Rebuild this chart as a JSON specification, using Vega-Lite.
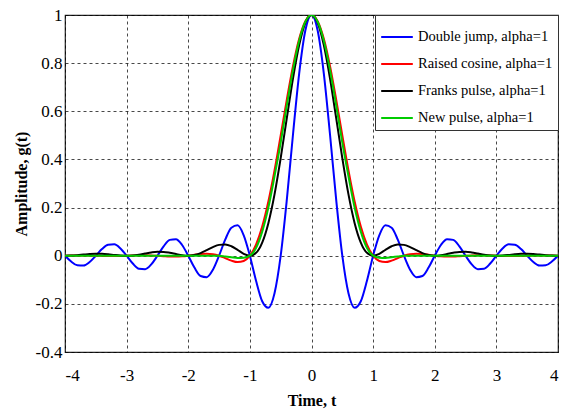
{
  "$schema": "https://vega.github.io/schema/vega-lite/v6.json",
  "autosize": {"type": "none"},
  "padding": {"left": 65, "top": 15, "right": 8, "bottom": 62},
  "width": 493,
  "height": 337,
  "background": "white",
  "config": {
    "font": "Liberation Serif",
    "view": {"stroke": "#222", "strokeWidth": 1.2},
    "axis": {"labelColor": "black", "titleColor": "black", "labelFont": "Liberation Serif", "titleFont": "Liberation Serif"},
    "legend": {"labelFont": "Liberation Serif"}
  },
  "data": {"values": [
    {"t": -4.0, "dj": 0, "rc": 0, "fp": 0, "np": 0},
    {"t": -3.9, "dj": -0.0240, "rc": 0.0004, "fp": 0.0006, "np": 0},
    {"t": -3.8, "dj": -0.0398, "rc": 0.0007, "fp": 0.0024, "np": 0},
    {"t": -3.7, "dj": -0.0409, "rc": 0.0007, "fp": 0.0048, "np": 0},
    {"t": -3.6, "dj": -0.0260, "rc": 0.0005, "fp": 0.0071, "np": 0},
    {"t": -3.5, "dj": 0, "rc": 0, "fp": 0.0083, "np": 0},
    {"t": -3.4, "dj": 0.0275, "rc": -0.0006, "fp": 0.0079, "np": 0},
    {"t": -3.3, "dj": 0.0459, "rc": -0.0011, "fp": 0.0061, "np": 0},
    {"t": -3.2, "dj": 0.0473, "rc": -0.0012, "fp": 0.0034, "np": 0},
    {"t": -3.1, "dj": 0.0302, "rc": -0.0008, "fp": 0.0010, "np": 0},
    {"t": -3.0, "dj": 0, "rc": 0, "fp": 0, "np": 0},
    {"t": -2.9, "dj": -0.0323, "rc": 0.0010, "fp": 0.0011, "np": 0},
    {"t": -2.8, "dj": -0.0541, "rc": 0.0018, "fp": 0.0045, "np": 0},
    {"t": -2.7, "dj": -0.0561, "rc": 0.0020, "fp": 0.0091, "np": 0},
    {"t": -2.6, "dj": -0.0360, "rc": 0.0014, "fp": 0.0136, "np": 0},
    {"t": -2.5, "dj": 0, "rc": 0, "fp": 0.0162, "np": 0},
    {"t": -2.4, "dj": 0.0390, "rc": -0.0018, "fp": 0.0159, "np": 0},
    {"t": -2.3, "dj": 0.0658, "rc": -0.0033, "fp": 0.0125, "np": 0},
    {"t": -2.2, "dj": 0.0688, "rc": -0.0037, "fp": 0.0072, "np": 0},
    {"t": -2.1, "dj": 0.0445, "rc": -0.0027, "fp": 0.0022, "np": 0},
    {"t": -2.0, "dj": 0, "rc": 0, "fp": 0, "np": 0},
    {"t": -1.9, "dj": -0.0492, "rc": 0.0037, "fp": 0.0027, "np": 0},
    {"t": -1.8, "dj": -0.0841, "rc": 0.0070, "fp": 0.0108, "np": 0},
    {"t": -1.7, "dj": -0.0890, "rc": 0.0084, "fp": 0.0229, "np": 0},
    {"t": -1.6, "dj": -0.0585, "rc": 0.0063, "fp": 0.0358, "np": 0},
    {"t": -1.5, "dj": 0, "rc": 0, "fp": 0.0450, "np": 0},
    {"t": -1.4, "dj": 0.0668, "rc": -0.0098, "fp": 0.0468, "np": -0.003},
    {"t": -1.3, "dj": 0.1164, "rc": -0.0202, "fp": 0.0392, "np": -0.006},
    {"t": -1.2, "dj": 0.1261, "rc": -0.0265, "fp": 0.0243, "np": -0.009},
    {"t": -1.1, "dj": 0.0850, "rc": -0.0221, "fp": 0.0080, "np": -0.008},
    {"t": -1.0, "dj": 0, "rc": 0, "fp": 0, "np": 0},
    {"t": -0.9, "dj": -0.1039, "rc": 0.0464, "fp": 0.0119, "np": 0.032},
    {"t": -0.8, "dj": -0.1892, "rc": 0.1213, "fp": 0.0547, "np": 0.100},
    {"t": -0.7, "dj": -0.2162, "rc": 0.2252, "fp": 0.1353, "np": 0.200},
    {"t": -0.6, "dj": -0.1559, "rc": 0.3543, "fp": 0.2546, "np": 0.330},
    {"t": -0.5, "dj": 0, "rc": 0.5, "fp": 0.4053, "np": 0.470},
    {"t": -0.4, "dj": 0.2339, "rc": 0.6497, "fp": 0.5728, "np": 0.625},
    {"t": -0.3, "dj": 0.5046, "rc": 0.7884, "fp": 0.7368, "np": 0.772},
    {"t": -0.2, "dj": 0.7568, "rc": 0.9010, "fp": 0.8751, "np": 0.893},
    {"t": -0.1, "dj": 0.9355, "rc": 0.9745, "fp": 0.9675, "np": 0.972},
    {"t": 0.0, "dj": 1, "rc": 1, "fp": 1, "np": 1},
    {"t": 0.1, "dj": 0.9355, "rc": 0.9745, "fp": 0.9675, "np": 0.972},
    {"t": 0.2, "dj": 0.7568, "rc": 0.9010, "fp": 0.8751, "np": 0.893},
    {"t": 0.3, "dj": 0.5046, "rc": 0.7884, "fp": 0.7368, "np": 0.772},
    {"t": 0.4, "dj": 0.2339, "rc": 0.6497, "fp": 0.5728, "np": 0.625},
    {"t": 0.5, "dj": 0, "rc": 0.5, "fp": 0.4053, "np": 0.470},
    {"t": 0.6, "dj": -0.1559, "rc": 0.3543, "fp": 0.2546, "np": 0.330},
    {"t": 0.7, "dj": -0.2162, "rc": 0.2252, "fp": 0.1353, "np": 0.200},
    {"t": 0.8, "dj": -0.1892, "rc": 0.1213, "fp": 0.0547, "np": 0.100},
    {"t": 0.9, "dj": -0.1039, "rc": 0.0464, "fp": 0.0119, "np": 0.032},
    {"t": 1.0, "dj": 0, "rc": 0, "fp": 0, "np": 0},
    {"t": 1.1, "dj": 0.0850, "rc": -0.0221, "fp": 0.0080, "np": -0.008},
    {"t": 1.2, "dj": 0.1261, "rc": -0.0265, "fp": 0.0243, "np": -0.009},
    {"t": 1.3, "dj": 0.1164, "rc": -0.0202, "fp": 0.0392, "np": -0.006},
    {"t": 1.4, "dj": 0.0668, "rc": -0.0098, "fp": 0.0468, "np": -0.003},
    {"t": 1.5, "dj": 0, "rc": 0, "fp": 0.0450, "np": 0},
    {"t": 1.6, "dj": -0.0585, "rc": 0.0063, "fp": 0.0358, "np": 0},
    {"t": 1.7, "dj": -0.0890, "rc": 0.0084, "fp": 0.0229, "np": 0},
    {"t": 1.8, "dj": -0.0841, "rc": 0.0070, "fp": 0.0108, "np": 0},
    {"t": 1.9, "dj": -0.0492, "rc": 0.0037, "fp": 0.0027, "np": 0},
    {"t": 2.0, "dj": 0, "rc": 0, "fp": 0, "np": 0},
    {"t": 2.1, "dj": 0.0445, "rc": -0.0027, "fp": 0.0022, "np": 0},
    {"t": 2.2, "dj": 0.0688, "rc": -0.0037, "fp": 0.0072, "np": 0},
    {"t": 2.3, "dj": 0.0658, "rc": -0.0033, "fp": 0.0125, "np": 0},
    {"t": 2.4, "dj": 0.0390, "rc": -0.0018, "fp": 0.0159, "np": 0},
    {"t": 2.5, "dj": 0, "rc": 0, "fp": 0.0162, "np": 0},
    {"t": 2.6, "dj": -0.0360, "rc": 0.0014, "fp": 0.0136, "np": 0},
    {"t": 2.7, "dj": -0.0561, "rc": 0.0020, "fp": 0.0091, "np": 0},
    {"t": 2.8, "dj": -0.0541, "rc": 0.0018, "fp": 0.0045, "np": 0},
    {"t": 2.9, "dj": -0.0323, "rc": 0.0010, "fp": 0.0011, "np": 0},
    {"t": 3.0, "dj": 0, "rc": 0, "fp": 0, "np": 0},
    {"t": 3.1, "dj": 0.0302, "rc": -0.0008, "fp": 0.0010, "np": 0},
    {"t": 3.2, "dj": 0.0473, "rc": -0.0012, "fp": 0.0034, "np": 0},
    {"t": 3.3, "dj": 0.0459, "rc": -0.0011, "fp": 0.0061, "np": 0},
    {"t": 3.4, "dj": 0.0275, "rc": -0.0006, "fp": 0.0079, "np": 0},
    {"t": 3.5, "dj": 0, "rc": 0, "fp": 0.0083, "np": 0},
    {"t": 3.6, "dj": -0.0260, "rc": 0.0005, "fp": 0.0071, "np": 0},
    {"t": 3.7, "dj": -0.0409, "rc": 0.0007, "fp": 0.0048, "np": 0},
    {"t": 3.8, "dj": -0.0398, "rc": 0.0007, "fp": 0.0024, "np": 0},
    {"t": 3.9, "dj": -0.0240, "rc": 0.0004, "fp": 0.0006, "np": 0},
    {"t": 4.0, "dj": 0, "rc": 0, "fp": 0, "np": 0}
  ]},
  "transform": [
    {"fold": ["dj", "rc", "fp", "np"], "as": ["series", "g"]}
  ],
  "mark": {"type": "line", "strokeWidth": 2, "interpolate": "monotone", "clip": true},
  "encoding": {
    "x": {
      "field": "t", "type": "quantitative",
      "scale": {"domain": [-4, 4], "nice": false, "zero": false},
      "axis": {
        "values": [-4, -3, -2, -1, 0, 1, 2, 3, 4],
        "labelExpr": "'' + datum.value",
        "grid": true, "gridDash": [3, 3], "gridColor": "#000", "gridWidth": 0.8, "gridOpacity": 0.9,
        "domain": false, "ticks": false,
        "labelFontSize": 17, "labelPadding": 15,
        "title": "Time, t", "titleFontSize": 16, "titleFontWeight": "bold", "titlePadding": 9
      }
    },
    "y": {
      "field": "g", "type": "quantitative",
      "scale": {"domain": [-0.4, 1], "nice": false, "zero": false},
      "axis": {
        "values": [-0.4, -0.2, 0, 0.2, 0.4, 0.6, 0.8, 1],
        "labelExpr": "'' + datum.value",
        "grid": true, "gridDash": [3, 3], "gridColor": "#000", "gridWidth": 0.8, "gridOpacity": 0.9,
        "domain": false, "ticks": false,
        "labelFontSize": 17, "labelPadding": 3,
        "title": "Amplitude, g(t)", "titleFontSize": 16, "titleFontWeight": "bold", "titlePadding": 6
      }
    },
    "color": {
      "field": "series", "type": "nominal",
      "scale": {"domain": ["dj", "rc", "fp", "np"], "range": ["#0000ff", "#ff0000", "#000000", "#00cc00"]},
      "legend": {
        "title": null,
        "orient": "top-right",
        "offset": 0,
        "labelExpr": "datum.value == 'dj' ? 'Double jump, alpha=1' : datum.value == 'rc' ? 'Raised cosine, alpha=1' : datum.value == 'fp' ? 'Franks pulse, alpha=1' : 'New pulse, alpha=1'",
        "labelFont": "Liberation Serif",
        "labelFontSize": 14.5,
        "labelColor": "black",
        "labelOffset": 4,
        "symbolType": "stroke",
        "symbolStrokeWidth": 2,
        "symbolSize": 1000,
        "rowPadding": 3,
        "padding": 5,
        "strokeColor": "#333",
        "fillColor": "white",
        "cornerRadius": 0
      }
    }
  }
}
